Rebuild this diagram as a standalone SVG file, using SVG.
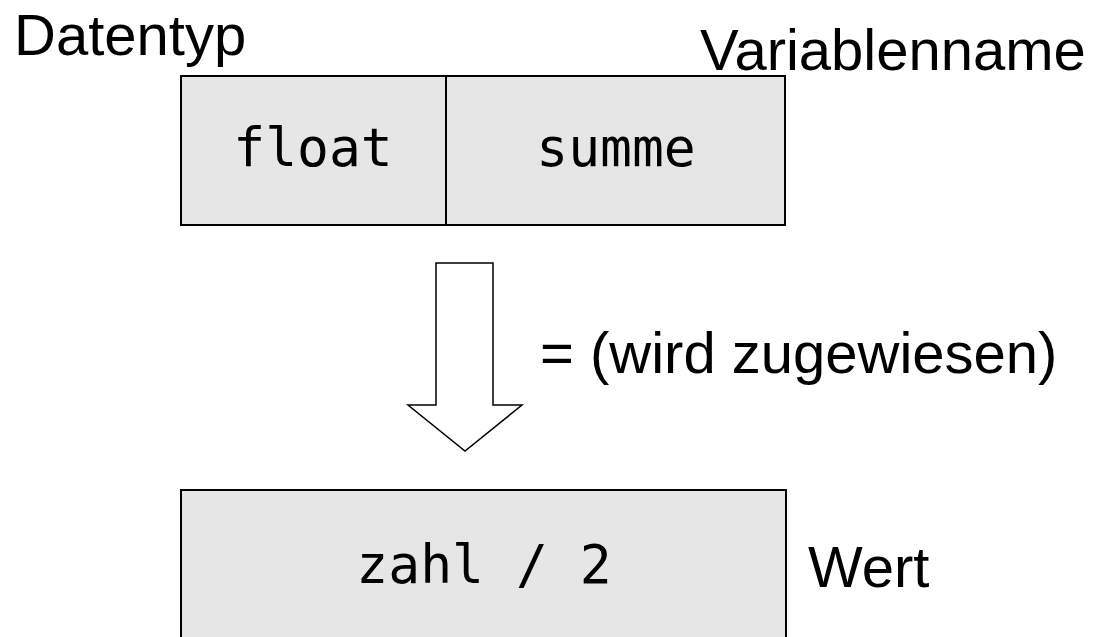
<svg xmlns="http://www.w3.org/2000/svg" width="1094" height="637" viewBox="0 0 1094 637">
<style>
.box{fill:#e6e6e6;stroke:#000;stroke-width:2}
.lbl{font-family:"Liberation Sans",Arial,sans-serif;font-size:58px;fill:#000}
.code{font-family:"DejaVu Sans Mono",monospace;font-size:53px;fill:#000;text-anchor:middle}
.arrow{fill:#fff;stroke:#000;stroke-width:1.5;stroke-linejoin:miter}
</style>
<rect width="1094" height="637" fill="#fff"/>
<g id="labels">
<text class="lbl" x="14" y="55">Datentyp</text>
<text class="lbl" x="700" y="70">Variablenname</text>
<text class="lbl" x="540" y="373">= (wird zugewiesen)</text>
<text class="lbl" x="808" y="587">Wert</text>
</g>
<g id="decl">
<rect class="box" x="181" y="76" width="604" height="149"/>
<line x1="446" y1="76" x2="446" y2="225" stroke="#000" stroke-width="2"/>
<text class="code" x="313" y="166">float</text>
<text class="code" x="616" y="166">summe</text>
</g>
<g id="value">
<rect class="box" x="181" y="490" width="605" height="160"/>
<text class="code" x="484" y="583">zahl / 2</text>
</g>
<g id="connectors">
<path class="arrow" d="M436,263 H493 V405 H522 L465,451 L408,405 H436 Z"/>
</g>
</svg>
